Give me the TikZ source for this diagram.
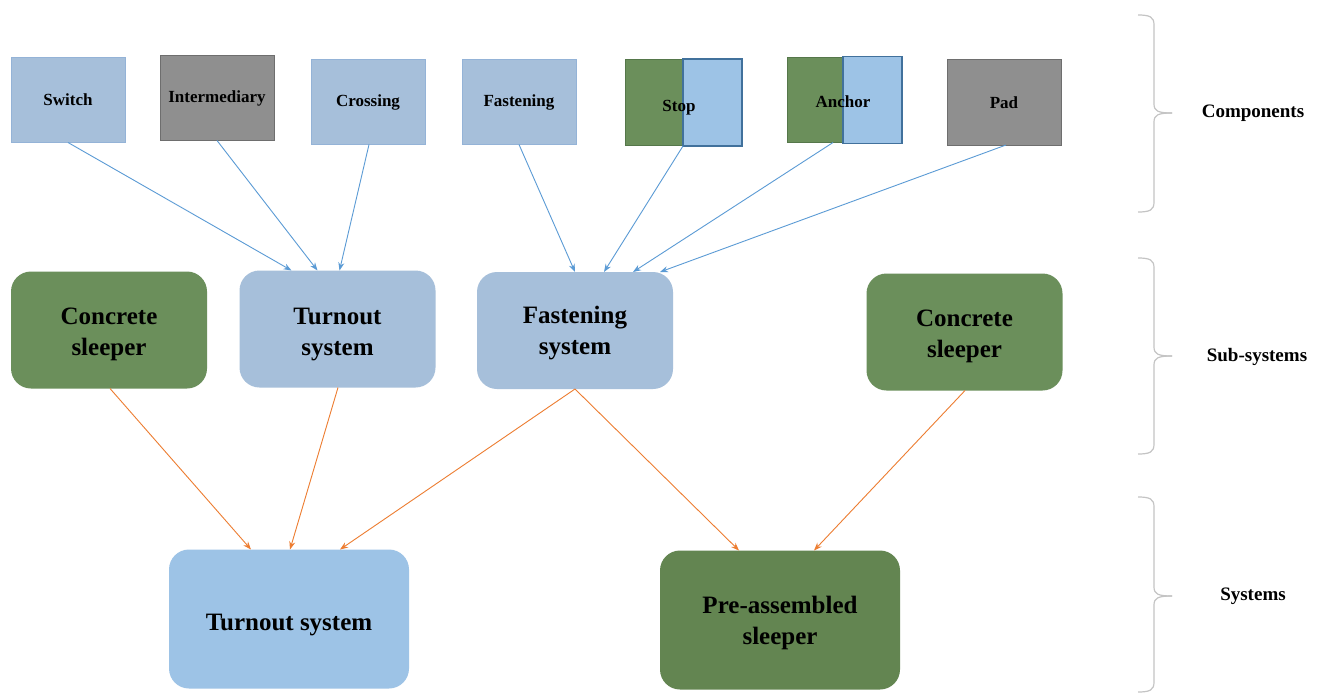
\documentclass[tikz,border=0pt]{standalone}
\usepackage{fontspec}
\setmainfont{Liberation Serif}
\usetikzlibrary{arrows.meta}
\definecolor{ltblue}{HTML}{A6BFDA}
\definecolor{ltblueline}{HTML}{94B3D7}
\definecolor{skyblue}{HTML}{9DC3E6}
\definecolor{darkblueline}{HTML}{41719C}
\definecolor{gfill}{HTML}{6B8F5B}
\definecolor{gline}{HTML}{55774A}
\definecolor{gdark}{HTML}{638551}
\definecolor{grayfill}{HTML}{8F8F8F}
\definecolor{grayline}{HTML}{6E6E6E}
\definecolor{bluearrow}{HTML}{5B9BD5}
\definecolor{orangearrow}{HTML}{ED7D31}
\definecolor{bracecol}{HTML}{C4C4C4}
\begin{document}
\begin{tikzpicture}[x=1pt,y=-1pt,
  comp/.style={draw, line width=1pt, inner sep=0pt, outer sep=0pt, minimum width=114pt, minimum height=85pt, font=\bfseries\fontsize{17}{20}\selectfont, text=black},
  lightcomp/.style={comp, fill=ltblue, draw=ltblueline},
  graycomp/.style={comp, fill=grayfill, draw=grayline},
  halfg/.style={draw=gline, fill=gfill, line width=1pt, inner sep=0pt, outer sep=0pt, minimum width=58pt, minimum height=85pt},
  halfb/.style={draw=darkblueline, fill=skyblue, line width=1.6pt, inner sep=0pt, outer sep=0pt, minimum width=59pt, minimum height=87pt},
  complabel/.style={inner sep=0pt, font=\bfseries\fontsize{17}{20}\selectfont, text=black},
  sub/.style={rounded corners=20pt, inner sep=0pt, outer sep=0pt, minimum width=196pt, minimum height=117pt},
  sys/.style={sub, minimum width=240pt, minimum height=139pt},
  boxtext/.style={align=center, inner sep=0pt, font=\bfseries\fontsize{25}{31}\selectfont, text=black},
  lvl/.style={font=\bfseries\fontsize{19}{22}\selectfont, text=black},
  barrow/.style={draw=bluearrow, line width=0.9pt, -{Stealth[length=8pt,width=6pt]}},
  oarrow/.style={draw=orangearrow, line width=0.9pt, -{Stealth[length=8pt,width=6pt]}},
  bracestyle/.style={draw=bracecol, line width=1.2pt}
]
\useasboundingbox[fill=white] (0,0) rectangle (1325,693);

% Components
\node[lightcomp] (switch) at (68,100) {Switch};
\node[graycomp] (inter) at (217,98) {Intermediary};
\node[lightcomp] (crossing) at (368,102) {Crossing};
\node[lightcomp] (fastening) at (519,102) {Fastening};
\node[halfg] (stopg) at (654,102.5) {};
\node[halfb] (stopb) at (712.5,102.5) {};
\node[complabel] (stop) at (679,108) {Stop};
\node[halfg] (anchg) at (816,100) {};
\node[halfb] (anchb) at (872.5,100) {};
\node[complabel] (anchor) at (843,102) {Anchor};
\node[graycomp] (pad) at (1004,102.5) {Pad};

% Sub-systems
\node[sub, fill=gfill, label={[boxtext, yshift=-4pt]center:{Concrete\\sleeper}}] (concL) at (109,330) {};
\node[sub, fill=ltblue, label={[boxtext, yshift=-6pt]center:{Turnout\\system}}] (turnS) at (337.5,329) {};
\node[sub, fill=ltblue, label={[boxtext, yshift=-3pt]center:{Fastening\\system}}] (fastS) at (575,330.5) {};
\node[sub, fill=gfill, label={[boxtext, yshift=-4pt]center:{Concrete\\sleeper}}] (concR) at (964.5,332) {};

% Systems
\node[sys, fill=skyblue, label={[boxtext, yshift=-6pt]center:{Turnout system}}] (turnY) at (289,619) {};
\node[sys, fill=gdark, label={[boxtext, yshift=-3pt]center:{Pre-assembled\\sleeper}}] (preY) at (780,620) {};

% Blue arrows
\draw[barrow] (switch.south) -- ([xshift=-46pt]turnS.north);
\draw[barrow] (inter.south) -- ([xshift=-20pt]turnS.north);
\draw[barrow] ([xshift=1pt]crossing.south) -- ([xshift=2pt]turnS.north);
\draw[barrow] (fastening.south) -- (fastS.north);
\draw[barrow] (stopb.south west) -- ([xshift=29pt]fastS.north);
\draw[barrow] ([xshift=17pt]anchg.south) -- ([xshift=58pt]fastS.north);
\draw[barrow] ([xshift=2pt]pad.south) -- ([xshift=85pt]fastS.north);

% Orange arrows
\draw[oarrow] ([xshift=1pt]concL.south) -- ([xshift=-38pt]turnY.north);
\draw[oarrow] ([xshift=0.5pt]turnS.south) -- ([xshift=1pt]turnY.north);
\draw[oarrow] (fastS.south) -- ([xshift=51pt]turnY.north);
\draw[oarrow] (fastS.south) -- ([xshift=-41pt]preY.north);
\draw[oarrow] ([xshift=0.5pt]concR.south) -- ([xshift=34pt]preY.north);

% Braces
\foreach \t/\m/\b in {15/113/212, 258/356/454, 497/596/692}{
  \draw[bracestyle] (1138,\t) .. controls (1150,\t) and (1154,\t+2) .. (1154,\t+10) -- (1154,\m-9) .. controls (1154,\m-2) and (1158,\m) .. (1172,\m);
  \draw[bracestyle] (1172,\m) .. controls (1158,\m) and (1154,\m+2) .. (1154,\m+9) -- (1154,\b-10) .. controls (1154,\b-2) and (1150,\b) .. (1138,\b);
}

% Level labels
\node[lvl] (lcomp) at (1253,113) {Components};
\node[lvl] (lsub) at (1257,357) {Sub-systems};
\node[lvl] (lsys) at (1253,596) {Systems};
\end{tikzpicture}
\end{document}
